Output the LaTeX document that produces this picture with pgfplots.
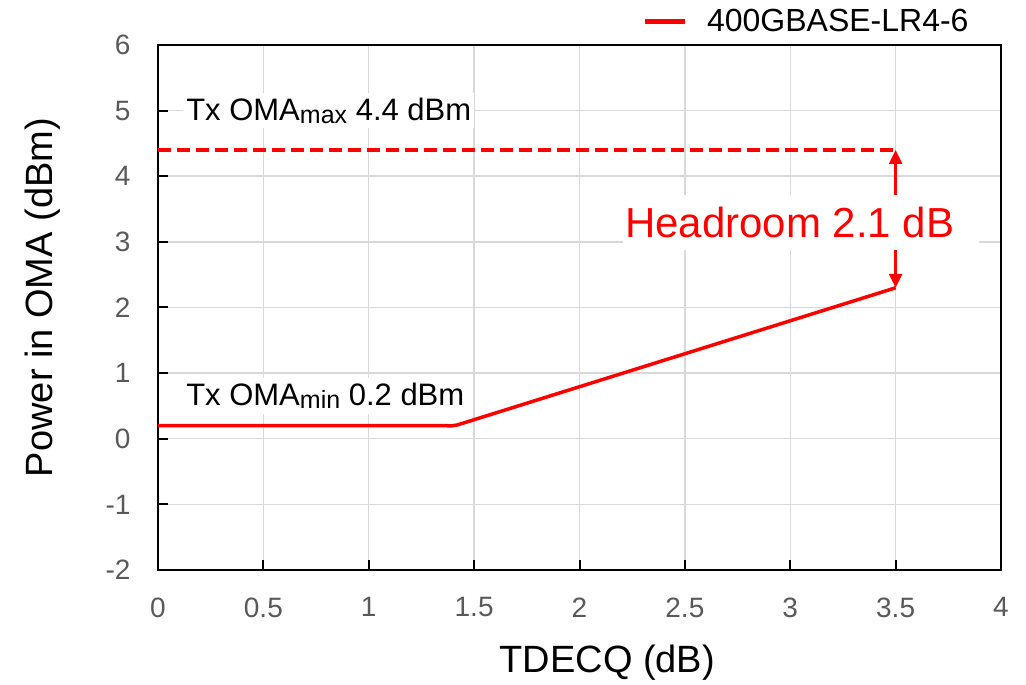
\documentclass[border=0pt]{standalone}
\usepackage{pgfplots}
\pgfplotsset{compat=1.18}
\usepackage{fontspec}
\setmainfont{Liberation Sans}
\usetikzlibrary{arrows.meta}
\definecolor{tickgray}{HTML}{595959}
\definecolor{gridgray}{HTML}{D9D9D9}
\definecolor{pred}{HTML}{FF0000}
\begin{document}
\begin{tikzpicture}
\begin{axis}[
  name=ax,
  width=843pt, height=525pt, scale only axis,
  xmin=0, xmax=4, ymin=-2, ymax=6,
  xtick={0,0.5,1,1.5,2,2.5,3,3.5,4},
  ytick={-2,-1,0,1,2,3,4,5,6},
  xtick pos=bottom, ytick pos=left,
  tick align=inside,
  major tick length=10pt,
  every tick/.style={black, line width=2pt},
  axis line style={black, line width=2pt},
  grid=major,
  major grid style={gridgray, line width=1.5pt},
  /pgf/number format/assume math mode=true,
  ticklabel style={font=\fontsize{28}{34}\selectfont, text=tickgray},
  xticklabel style={yshift=-24pt},
  yticklabel style={xshift=-24pt},
  label style={font=\fontsize{38}{46}\selectfont},
  xlabel={TDECQ (dB)},
  ylabel={Power in OMA (dBm)},
  xlabel style={at={(axis description cs:0.533,-0.177)}, anchor=center},
  ylabel style={at={(axis description cs:-0.1364,0.519)}, anchor=center},
  legend style={at={(axis description cs:0.574,1.0457)}, anchor=west,
    draw=none, fill=none, inner sep=0pt, font=\fontsize{32}{38}\selectfont,
    nodes={inner sep=0pt},
    /tikz/every odd column/.append style={column sep=20pt}},
  legend cell align=left,
  legend image code/.code={\draw[#1, line width=5pt] (0pt,0pt) -- (40pt,0pt);},
]
\addplot[pred, line width=3.5pt, line join=round] coordinates {
  (0,0.2) (1.36,0.2) (1.39,0.195) (1.42,0.21) (1.45,0.24) (3.5,2.3)};
\addlegendentry{400GBASE-LR4-6}
\addplot[pred, line width=4pt, dash pattern=on 13pt off 6pt, forget plot] coordinates {
  (0,4.4) (3.5,4.4)};
\addplot[pred, line width=2.5pt, {Triangle[length=14pt,width=13pt]}-{Triangle[length=14pt,width=13pt]}, forget plot] coordinates {
  (3.5,4.4) (3.5,2.3)};
\node[anchor=west, fill=white, inner xsep=3pt, inner ysep=5pt, font=\fontsize{31}{37}\selectfont]
  at (axis cs:0.119,5.0) {Tx OMA\raisebox{-3pt}{\fontsize{25}{30}\selectfont max} 4.4 dBm};
\node[anchor=west, fill=white, inner xsep=3pt, inner ysep=5pt, font=\fontsize{31}{37}\selectfont]
  at (axis cs:0.119,0.649) {Tx OMA\raisebox{-3pt}{\fontsize{25}{30}\selectfont min} 0.2 dBm};
\node[anchor=west, fill=white, inner xsep=2pt, inner ysep=12pt, text=pred, font=\fontsize{42}{50}\selectfont]
  at (axis cs:2.206,3.294) {Headroom 2.1 dB\hspace*{23pt}};
\end{axis}
\path ([shift={(-158pt,-115pt)}]ax.south west) rectangle ([shift={(25pt,45pt)}]ax.north east);
\end{tikzpicture}
\end{document}
